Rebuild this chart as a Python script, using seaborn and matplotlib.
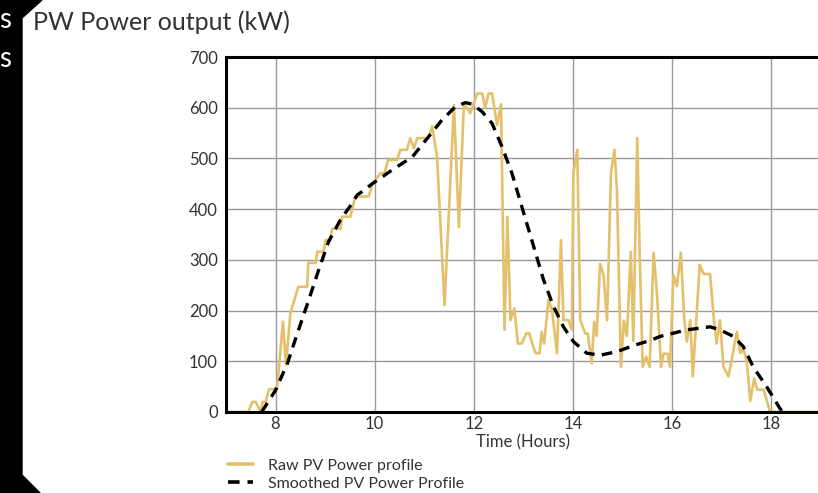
import numpy as np
import pandas as pd
import seaborn as sns
import matplotlib.pyplot as plt
from matplotlib.patches import Polygon
from matplotlib.lines import Line2D

# raw PV power profile (hours, kW)
raw_hours = [7.00, 7.45, 7.53, 7.60, 7.70, 7.74, 7.80, 7.87, 8.03, 8.15, 8.21, 8.30, 8.46, 8.64,
             8.66, 8.81, 8.84, 8.97, 9.01, 9.11, 9.14, 9.31, 9.34, 9.51, 9.61, 9.88, 9.95, 10.12,
             10.20, 10.27, 10.45, 10.52, 10.65, 10.72, 10.79, 10.86, 11.09, 11.16, 11.26, 11.41,
             11.60, 11.70, 11.80, 11.87, 11.93, 12.00, 12.07, 12.17, 12.23, 12.30, 12.37, 12.47,
             12.55, 12.62, 12.68, 12.74, 12.82, 12.89, 12.97, 13.06, 13.12, 13.20, 13.25, 13.33,
             13.37, 13.42, 13.51, 13.58, 13.68, 13.76, 13.81, 13.91, 13.98, 14.01, 14.09, 14.15,
             14.25, 14.30, 14.38, 14.43, 14.48, 14.55, 14.62, 14.69, 14.77, 14.84, 14.89, 14.97,
             15.03, 15.09, 15.17, 15.22, 15.30, 15.35, 15.41, 15.48, 15.55, 15.63, 15.70, 15.78,
             15.83, 15.91, 15.96, 16.03, 16.10, 16.18, 16.25, 16.30, 16.37, 16.42, 16.56, 16.64,
             16.77, 16.84, 16.90, 16.97, 17.04, 17.14, 17.20, 17.31, 17.38, 17.44, 17.51, 17.58,
             17.66, 17.72, 17.85, 17.98, 19.00]
raw_kw = [0, 0, 20, 20, 0, 20, 20, 45, 45, 178, 93, 195, 247, 247,
          294, 294, 316, 316, 339, 339, 361, 361, 385, 385, 425, 425, 448, 471,
          471, 497, 497, 517, 517, 540, 520, 540, 540, 563, 503, 211,
          605, 365, 605, 599, 589, 609, 628, 628, 600, 628, 628, 566,
          607, 162, 385, 181, 204, 135, 135, 155, 155, 129, 116, 116,
          158, 135, 221, 201, 116, 339, 181, 181, 162, 471, 517, 181,
          155, 155, 96, 178, 150, 292, 270, 181, 472, 517, 438, 89,
          180, 150, 316, 140, 540, 306, 89, 109, 89, 314, 230, 89,
          115, 115, 89, 270, 248, 314, 181, 139, 181, 70, 290, 272,
          272, 189, 135, 181, 89, 70, 100, 158, 116, 125, 100, 22,
          66, 44, 44, 0, 0]

# smoothed PV power profile
smooth_hours = [7.72, 8.00, 8.24, 8.44, 8.67, 8.87, 9.07, 9.31, 9.55, 9.65, 9.78, 9.95, 10.35,
                10.76, 11.09, 11.36, 11.63, 11.83, 11.97, 12.17, 12.37, 12.57, 12.77, 13.00,
                13.21, 13.41, 13.61, 13.81, 14.01, 14.28, 14.55, 14.89, 15.22, 15.56, 15.76,
                16.30, 16.77, 16.97, 17.24, 17.44, 17.64, 17.91, 18.18, 18.23]
smooth_kw = [0, 43, 96, 155, 221, 280, 336, 379, 412, 428, 437, 450, 477,
             503, 543, 576, 602, 610, 607, 592, 569, 523, 471, 395,
             326, 260, 208, 168, 139, 116, 112, 119, 131, 141, 149,
             162, 168, 162, 149, 129, 89, 50, 7, 0]

x_ticks = [8, 10, 12, 14, 16, 18]
y_ticks = [0, 100, 200, 300, 400, 500, 600, 700]

raw_color = '#E4C06A'
text_color = '#333333'
dash = (0, (3.2, 2.2))

sns.set_style('white')
plt.rcParams['font.family'] = ['Lato', 'DejaVu Sans']

fig = plt.figure(figsize=(8.18, 4.93), dpi=100)
ax = fig.add_axes([226 / 818, 81 / 493, 594.6 / 818, 355 / 493])

raw_df = pd.DataFrame({'hours': raw_hours, 'kw': raw_kw})
smooth_df = pd.DataFrame({'hours': smooth_hours, 'kw': smooth_kw})
sns.lineplot(data=raw_df, x='hours', y='kw', ax=ax, color=raw_color, lw=1.9, sort=False)
sns.lineplot(data=smooth_df, x='hours', y='kw', ax=ax, color='black', lw=2.4,
             linestyle=dash, sort=False)

ax.set_xlim(7, 19)
ax.set_ylim(0, 700)
ax.set_xticks(x_ticks)
ax.set_yticks(y_ticks)
ax.grid(True, color='#9a9a9a', lw=1.0)
ax.tick_params(length=0, labelsize=12, labelcolor=text_color)
ax.tick_params(axis='y', pad=6)
ax.tick_params(axis='x', pad=3)
for side in ['left', 'bottom', 'top', 'right']:
    ax.spines[side].set_color('black')
    ax.spines[side].set_linewidth(2.2)
ax.set_xlabel('Time (Hours)', fontsize=12, color=text_color, labelpad=1.5)
ax.set_ylabel('')

fig.text(33 / 818, 1 - 22 / 493, 'PW Power output (kW)', fontsize=18, color=text_color,
         va='center', ha='left')

handles = [Line2D([], [], color=raw_color, lw=2.6),
           Line2D([], [], color='black', lw=2.6, linestyle=dash)]
fig.legend(handles, ['Raw PV Power profile', 'Smoothed PV Power Profile'],
           loc='upper left', bbox_to_anchor=(218 / 818, 1 - 449 / 493), frameon=False,
           fontsize=11.5, handlelength=1.6, handletextpad=0.9, labelspacing=0.25,
           labelcolor=text_color, borderpad=0.1)

# dark slide border on the left
border = Polygon([(0, 1), (42 / 818, 1), (22 / 818, 1 - 18 / 493), (22 / 818, 1 - 475 / 493),
                  (40 / 818, 0), (0, 0)], closed=True, transform=fig.transFigure,
                 color='black', zorder=5)
fig.patches.append(border)
fig.text(11 / 818, 1 - 20 / 493, 's', fontsize=20, color='white', ha='right', va='center',
         zorder=6)
fig.text(11 / 818, 1 - 59 / 493, 's', fontsize=20, color='white', ha='right', va='center',
         zorder=6)

fig.savefig('out.png', dpi=100)
